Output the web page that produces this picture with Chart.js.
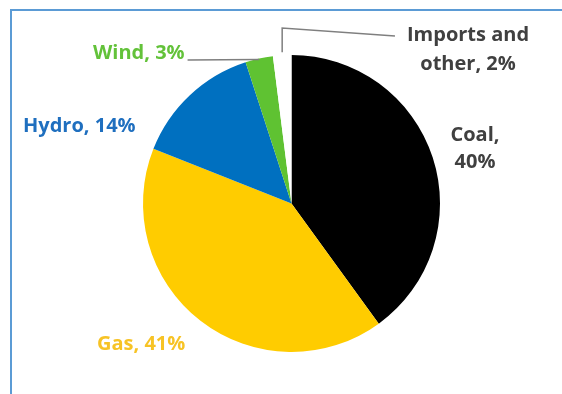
<!DOCTYPE html>
<html>
<head>
<meta charset="utf-8">
<script src="https://cdn.jsdelivr.net/npm/chart.js@4.4.1/dist/chart.umd.min.js"></script>
<style>
  html, body { margin: 0; padding: 0; background: #fff; }
  #wrap { position: relative; width: 562px; height: 394px; overflow: hidden; }
  #frame { position: absolute; left: 10px; top: 9px; width: 700px; height: 500px; border: 2px solid #5b9bd5; }
  canvas { position: absolute; left: 0; top: 0; }
</style>
</head>
<body>
<div id="wrap">
  <div id="frame"></div>
  <canvas id="mix-chart" width="562" height="394"></canvas>
</div>
<script>
// Electricity generation mix, share of total (%)
const categories = ['Coal', 'Gas', 'Hydro', 'Wind', 'Imports and other'];
const shares = [40, 41, 14, 3, 2];
const labelLines = [
    ['Coal,', '40%'],
    ['Gas, 41%'],
    ['Hydro, 14%'],
    ['Wind, 3%'],
    ['Imports and', 'other, 2%']
];

const sliceColors = ['#000000', '#ffcc00', '#0070c0', '#5fc232', '#ffffff'];
const textColors = ['#404040', '#f7c325', '#1f6fbf', '#63c23a', '#404040'];

// where each label sits (text anchor) and how its leader line runs
const labelLayout = [
    { x: 475, y: 141, align: 'center', lineHeight: 27 },
    { x: 97, y: 350, align: 'left' },
    { x: 23, y: 132, align: 'left' },
    { x: 93, y: 59, align: 'left', leader: 'horizontal' },
    { x: 468, y: 41, align: 'center', lineHeight: 29, leader: 'elbow' }
];

const sliceLabels = {
    id: 'sliceLabels',
    afterDatasetsDraw(chart) {
        const ctx = chart.ctx;
        const meta = chart.getDatasetMeta(0);
        ctx.save();
        ctx.font = 'bold 20px "Open Sans", sans-serif';
        ctx.textBaseline = 'alphabetic';

        meta.data.forEach((arc, i) => {
            const spec = labelLayout[i];
            const lines = labelLines[i];
            const mid = (arc.startAngle + arc.endAngle) / 2;
            const ex = arc.x + Math.cos(mid) * arc.outerRadius;
            const ey = arc.y + Math.sin(mid) * arc.outerRadius;

            ctx.strokeStyle = '#7f7f7f';
            ctx.lineWidth = 1.5;
            if (spec.leader === 'horizontal') {
                const w = ctx.measureText(lines[0]).width;
                ctx.beginPath();
                ctx.moveTo(spec.x + w + 3, spec.y + 1);
                ctx.lineTo(ex, ey + 1);
                ctx.stroke();
            } else if (spec.leader === 'elbow') {
                const w = ctx.measureText(lines[0]).width;
                ctx.beginPath();
                ctx.moveTo(ex, ey - 3);
                ctx.lineTo(ex, spec.y - 13);
                ctx.lineTo(spec.x - w / 2 - 12, spec.y - 5);
                ctx.stroke();
            }

            ctx.fillStyle = textColors[i];
            ctx.textAlign = spec.align;
            lines.forEach((t, j) => {
                ctx.fillText(t, spec.x, spec.y + j * (spec.lineHeight || 0));
            });
        });
        ctx.restore();
    }
};

new Chart('mix-chart', {
    type: 'pie',
    data: {
        labels: categories,
        datasets: [{
            data: shares,
            backgroundColor: sliceColors,
            borderWidth: 0
        }]
    },
    options: {
        responsive: false,
        animation: false,
        layout: { padding: { top: 55, bottom: 42, left: 143, right: 122 } },
        plugins: {
            legend: { display: false },
            tooltip: { enabled: false }
        }
    },
    plugins: [sliceLabels]
});
</script>
</body>
</html>
